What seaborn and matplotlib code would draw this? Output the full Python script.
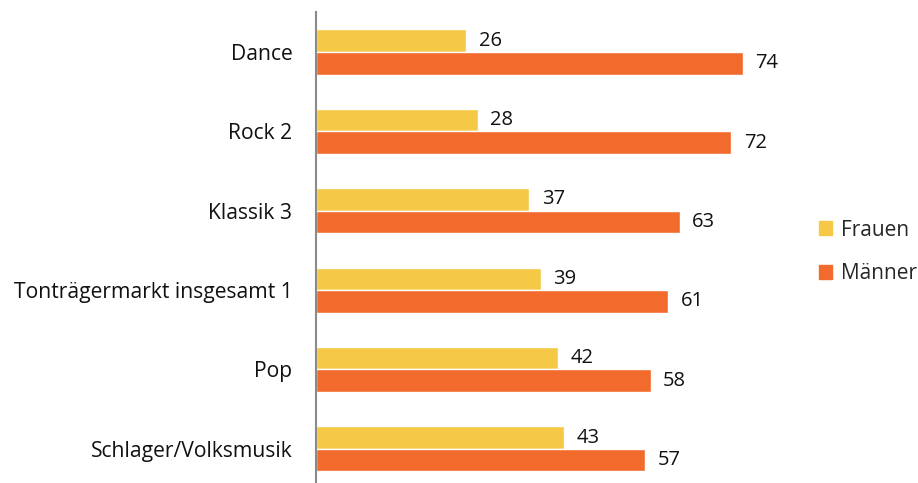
import pandas as pd
import matplotlib.pyplot as plt
import seaborn as sns
from matplotlib.patches import Patch

# Daten aus dem Diagramm
kategorien = ["Dance", "Rock 2", "Klassik 3", "Tonträgermarkt insgesamt 1",
              "Pop", "Schlager/Volksmusik"]
frauen = [26, 28, 37, 39, 42, 43]
maenner = [74, 72, 63, 61, 58, 57]
serien = ["Frauen", "Männer"]
farben = ["#F5C945", "#F26B2D"]

df = pd.DataFrame({
    "kategorie": kategorien * 2,
    "wert": frauen + maenner,
    "geschlecht": [serien[0]] * len(frauen) + [serien[1]] * len(maenner),
})

sns.set_theme(style="white")
plt.rcParams['font.family'] = ['Open Sans', 'DejaVu Sans']

fig = plt.figure(figsize=(9.18, 4.83), dpi=100)
ax = fig.add_axes([316 / 918, 0, (780 - 316) / 918, 1 - 12 / 483])

sns.barplot(data=df, y="kategorie", x="wert", hue="geschlecht", orient="h",
            palette=farben, width=0.57, ax=ax, legend=False, saturation=1)

# Werte an die Balken schreiben
for cont in ax.containers:
    ax.bar_label(cont, padding=9, fontsize=14.5, color="#111111")

ax.set_xlim(0, (780 - 316) / 5.77)
ax.set_ylim(5.43, -0.504)
ax.set_xlabel("")
ax.set_ylabel("")
ax.set_xticks([])
ax.tick_params(axis="y", length=0, labelsize=15.2, pad=17, labelcolor="#111111")
for s in ["top", "right", "bottom"]:
    ax.spines[s].set_visible(False)
ax.spines["left"].set_color("#8a8a8a")
ax.spines["left"].set_linewidth(1.5)

handles = [Patch(color=c, label=l) for c, l in zip(farben, serien)]
fig.legend(handles=handles, loc="center left", bbox_to_anchor=(800 / 918, 1 - 252 / 483),
           frameon=False, handlelength=0.62, handleheight=0.62, handletextpad=0.45,
           labelspacing=1.1, fontsize=15)

fig.savefig("out.png", dpi=100)
